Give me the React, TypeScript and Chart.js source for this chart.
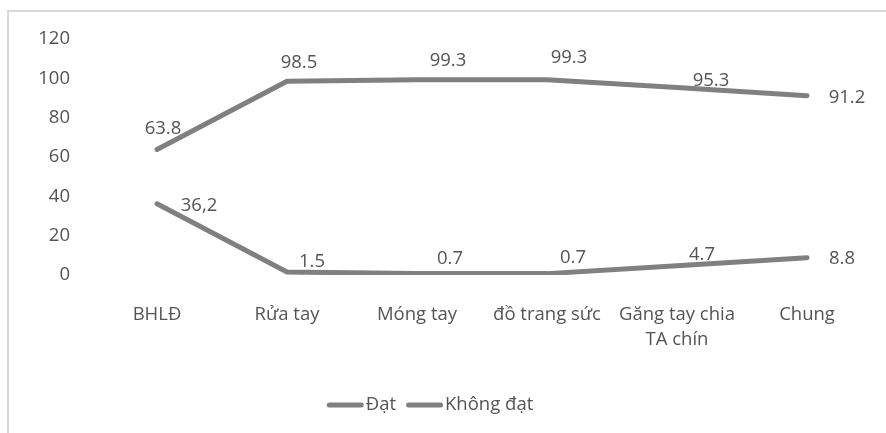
import React, { useEffect, useRef } from "react";
import { Chart, registerables } from "chart.js";

Chart.register(...registerables);

const categories: (string | string[])[] = [
  "BHLĐ",
  "Rửa tay",
  "Móng tay",
  "đồ trang sức",
  ["Găng tay chia", "TA chín"],
  "Chung",
];
const datValues = [63.8, 98.5, 99.3, 99.3, 95.3, 91.2];
const datLabels = ["63.8", "98.5", "99.3", "99.3", "95.3", "91.2"];
const khongDatValues = [36.2, 1.5, 0.7, 0.7, 4.7, 8.8];
const khongDatLabels = ["36,2", "1.5", "0.7", "0.7", "4.7", "8.8"];
const seriesNames = ["Đạt", "Không đạt"];

// label offsets (style only)
const datOffsets = [[6, -21], [12, -19], [31, -19], [22, -22], [34, -7], [40, 2]];
const khongOffsets = [[42, 2], [25, -10], [33, -15], [26, -16], [25, -11], [35, 1]];

const FONT = "'Open Sans', sans-serif";
const FS = 18.5;
const TEXT = "#545454";
const LINE = "#808080";

const bgPlugin = {
  id: "bgBorder",
  beforeDraw(chart: any) {
    const ctx = chart.ctx;
    ctx.save();
    ctx.fillStyle = "#ffffff";
    ctx.fillRect(0, 0, chart.width, chart.height);
    ctx.strokeStyle = "#d9d9d9";
    ctx.lineWidth = 2;
    ctx.strokeRect(8, 11, 2000, 2000);
    ctx.restore();
  },
};

const labelPlugin = {
  id: "valueLabels",
  afterDatasetsDraw(chart: any) {
    const ctx = chart.ctx;
    ctx.save();
    ctx.font = `${FS}px ${FONT}`;
    ctx.fillStyle = TEXT;
    ctx.textAlign = "center";
    ctx.textBaseline = "middle";
    const sets = [
      { labels: datLabels, offs: datOffsets },
      { labels: khongDatLabels, offs: khongOffsets },
    ];
    sets.forEach((s, di) => {
      const meta = chart.getDatasetMeta(di);
      meta.data.forEach((pt: any, i: number) => {
        ctx.fillText(s.labels[i], pt.x + s.offs[i][0], pt.y + s.offs[i][1]);
      });
    });
    ctx.restore();
  },
};

const legendPlugin = {
  id: "customLegend",
  afterDraw(chart: any) {
    const ctx = chart.ctx;
    ctx.save();
    ctx.font = `${FS}px ${FONT}`;
    ctx.textBaseline = "middle";
    ctx.textAlign = "left";
    const lineW = 37;
    const gap = 2;
    const spacing = 10;
    const widths = chart.data.datasets.map(
      (d: any) => lineW + gap + ctx.measureText(d.label).width
    );
    const total = widths.reduce((a: number, b: number) => a + b, 0) + spacing * (widths.length - 1);
    let x = 430 - total / 2;
    const y = 405;
    chart.data.datasets.forEach((d: any, i: number) => {
      ctx.strokeStyle = d.borderColor;
      ctx.lineWidth = 5;
      ctx.lineCap = "round";
      ctx.beginPath();
      ctx.moveTo(x + 2.5, y);
      ctx.lineTo(x + lineW - 2.5, y);
      ctx.stroke();
      ctx.fillStyle = TEXT;
      ctx.fillText(d.label, x + lineW + gap, y);
      x += widths[i] + spacing;
    });
    ctx.restore();
  },
};

export default function App() {
  const ref = useRef<HTMLCanvasElement | null>(null);
  useEffect(() => {
    if (!ref.current) return;
    const common = {
      borderColor: LINE,
      backgroundColor: LINE,
      borderWidth: 5,
      borderCapStyle: "round",
      borderJoinStyle: "round",
      pointRadius: 0,
      tension: 0,
      fill: false,
    };
    const chart = new Chart(ref.current, {
      type: "line",
      data: {
        labels: categories as any,
        datasets: [
          { label: seriesNames[0], data: datValues, ...common } as any,
          { label: seriesNames[1], data: khongDatValues, ...common } as any,
        ],
      },
      options: {
        responsive: false,
        animation: false,
        layout: { padding: { left: 0, right: 14, top: 39, bottom: 58 } },
        plugins: {
          tooltip: { enabled: false },
          legend: { display: false },
        },
        scales: {
          x: {
            offset: true,
            grid: { display: false, drawTicks: false },
            border: { display: false },
            ticks: {
              color: TEXT,
              font: { family: FONT, size: FS, lineHeight: 25 / FS },
              padding: 27,
              autoSkip: false,
              maxRotation: 0,
              minRotation: 0,
            },
            afterFit: (s: any) => {
              s.height = 100;
            },
          },
          y: {
            min: 0,
            max: 120,
            grid: { display: false, drawTicks: false },
            border: { display: false },
            ticks: {
              stepSize: 20,
              color: TEXT,
              font: { family: FONT, size: FS },
              padding: 22,
            },
            afterFit: (s: any) => {
              s.width = 92;
            },
          },
        },
      },
      plugins: [bgPlugin, labelPlugin, legendPlugin],
    });
    return () => chart.destroy();
  }, []);
  return (
    <canvas
      ref={ref}
      width={886}
      height={433}
      style={{ position: "absolute", left: 0, top: 0, display: "block" }}
    />
  );
}
